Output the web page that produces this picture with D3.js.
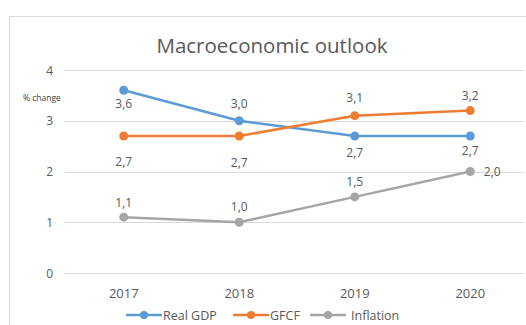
<!DOCTYPE html>
<html>
<head>
<meta charset="utf-8">
<script src="https://cdn.jsdelivr.net/npm/d3@7"></script>
<style>
  body { margin: 0; background: #fff; }
  svg { display: block; font-family: 'Open Sans', sans-serif; }
</style>
</head>
<body>
<svg id="chart" width="526" height="325"></svg>
<script>
const years = ['2017', '2018', '2019', '2020']
const realGdp = [3.6, 3.0, 2.7, 2.7]
const gfcf = [2.7, 2.7, 3.1, 3.2]
const inflation = [1.1, 1.0, 1.5, 2.0]
const yTicks = [0, 1, 2, 3, 4]

// where each data label sits relative to its point
const series = [
  { name: 'Real GDP', values: realGdp, color: '#5B9BD5', labels: [[0, 13], [0, -17], [0, 17], [0, 15]] },
  { name: 'GFCF', values: gfcf, color: '#ED7D31', labels: [[0, 26], [0, 27], [0, -18], [0, -15]] },
  { name: 'Inflation', values: inflation, color: '#A5A5A5', labels: [[0, -15], [0, -16], [0, -15], [22, 0]] }
]

const svg = d3.select('#chart')
const fmt = (v) => d3.format('.1f')(v).replace('.', ',')

// chart frame
svg.append('rect')
  .attr('x', 9.5).attr('y', 16.5)
  .attr('width', 530).attr('height', 320)
  .attr('fill', '#fff').attr('stroke', '#D9D9D9')

const x = d3.scaleBand().domain(years).range([66, 528])
const y = d3.scaleLinear().domain([0, 4]).range([273, 70])

// gridlines
svg.append('g')
  .selectAll('line')
  .data(yTicks)
  .join('line')
  .attr('x1', 65).attr('x2', 524)
  .attr('y1', (d) => Math.round(y(d)) + 0.5)
  .attr('y2', (d) => Math.round(y(d)) + 0.5)
  .attr('stroke', '#D9D9D9')

svg.append('g')
  .selectAll('text')
  .data(yTicks)
  .join('text')
  .attr('x', 53).attr('y', (d) => y(d))
  .attr('text-anchor', 'end')
  .attr('dominant-baseline', 'central')
  .attr('fill', '#595959')
  .style('font-size', '12px')
  .text((d) => d)

svg.append('text')
  .attr('x', 23).attr('y', 97)
  .attr('dominant-baseline', 'central')
  .attr('fill', '#404040')
  .style('font-size', '8.5px')
  .text('% change')

svg.append('g')
  .selectAll('text')
  .data(years)
  .join('text')
  .attr('x', (d) => x(d) + x.bandwidth() / 2)
  .attr('y', 293)
  .attr('text-anchor', 'middle')
  .attr('dominant-baseline', 'central')
  .attr('fill', '#595959')
  .style('font-size', '13px')
  .text((d) => d)

// title
svg.append('text')
  .attr('x', 272).attr('y', 45)
  .attr('text-anchor', 'middle')
  .attr('dominant-baseline', 'central')
  .attr('fill', '#595959')
  .style('font-size', '20.5px')
  .text('Macroeconomic outlook')

const cx = (i) => x(years[i]) + x.bandwidth() / 2
const line = d3.line().x((d, i) => cx(i)).y((d) => y(d))

series.forEach(function (s) {
  const g = svg.append('g')
  g.append('path')
    .attr('d', line(s.values))
    .attr('fill', 'none')
    .attr('stroke', s.color)
    .attr('stroke-width', 2.5)
  g.selectAll('circle')
    .data(s.values)
    .join('circle')
    .attr('cx', (d, i) => cx(i))
    .attr('cy', (d) => y(d))
    .attr('r', 4.5)
    .attr('fill', s.color)
})

// data labels on top of lines
series.forEach(function (s) {
  svg.append('g')
    .selectAll('text')
    .data(s.values)
    .join('text')
    .attr('x', (d, i) => cx(i) + s.labels[i][0])
    .attr('y', (d, i) => y(d) + s.labels[i][1])
    .attr('text-anchor', 'middle')
    .attr('dominant-baseline', 'central')
    .attr('fill', '#595959')
    .style('font-size', '12px')
    .text(fmt)
})

// legend
const legend = svg.append('g').attr('transform', 'translate(0,315)')
const legendX = [126, 233, 310]
series.forEach(function (s, i) {
  const lg = legend.append('g').attr('transform', `translate(${legendX[i]},0)`)
  lg.append('line')
    .attr('x1', 0).attr('x2', 36)
    .attr('stroke', s.color).attr('stroke-width', 2.5)
  lg.append('circle').attr('cx', 18).attr('r', 4).attr('fill', s.color)
  lg.append('text')
    .attr('x', i === 2 ? 41 : 37)
    .attr('dominant-baseline', 'central')
    .attr('fill', '#595959')
    .style('font-size', '12.5px')
    .text(s.name)
})
</script>
</body>
</html>
